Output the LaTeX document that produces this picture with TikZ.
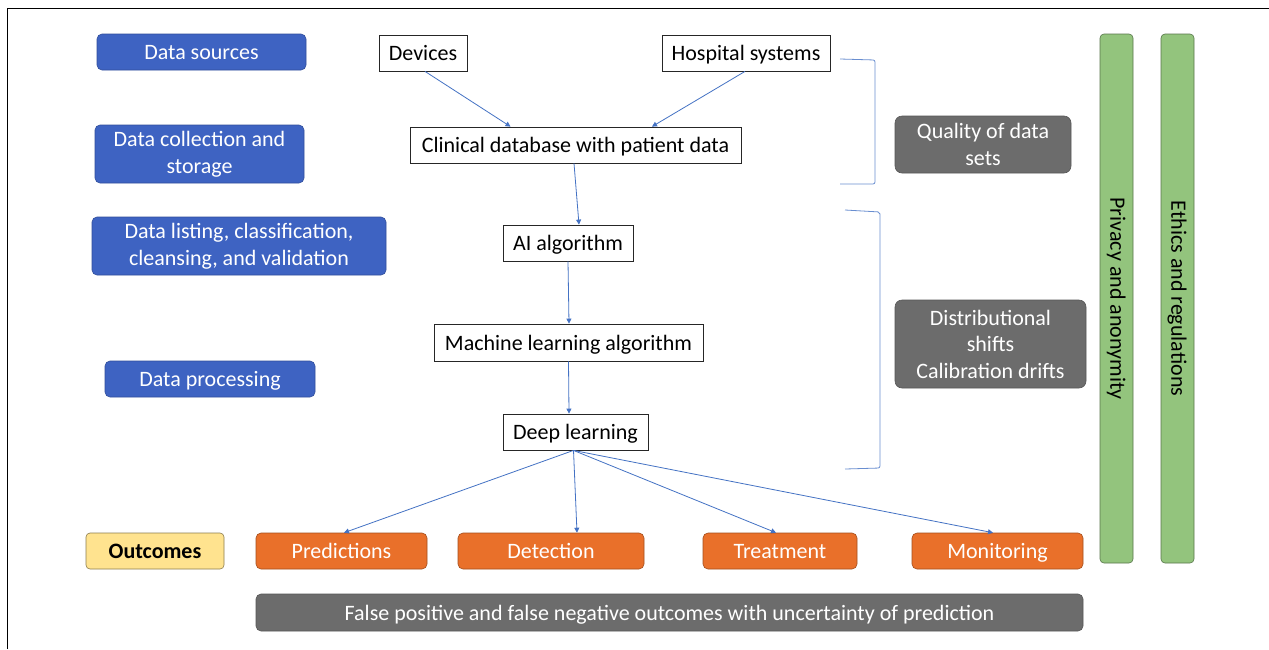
\documentclass[tikz,border=0pt]{standalone}
\usepackage{fontspec}
\setmainfont{Carlito}
\usetikzlibrary{arrows.meta}
\definecolor{bluebox}{RGB}{62,99,194}
\definecolor{orangebox}{RGB}{233,112,42}
\definecolor{graybox}{RGB}{108,108,108}
\definecolor{greenbox}{RGB}{147,196,125}
\definecolor{yellowbox}{RGB}{255,227,143}
\definecolor{linkblue}{RGB}{68,114,196}
\tikzset{
  base/.style={inner sep=2pt, align=center, font=\fontsize{22}{26.5}\selectfont, text height=15.5pt, text depth=0pt},
  multi/.style={text height=, text depth=},
  stagebox/.style={base, fill=bluebox, draw=bluebox!80!black, rounded corners=5pt, text=white, line width=0.6pt},
  flowbox/.style={base, fill=white, draw=black!85, line width=0.8pt, text=black},
  outbox/.style={base, fill=orangebox, draw=orangebox!70!black, rounded corners=5pt, text=white, line width=0.6pt},
  issuebox/.style={base, fill=graybox, draw=graybox!80!black, rounded corners=7pt, text=white, line width=0.6pt},
  barbox/.style={base, fill=greenbox, draw=greenbox!60!black, rounded corners=4pt, text=black, line width=0.6pt, rotate=-90},
  yellbox/.style={base, fill=yellowbox, draw=yellowbox!55!black, rounded corners=4pt, text=black, font=\fontsize{22}{26.5}\selectfont\bfseries, line width=0.6pt},
  link/.style={draw=linkblue, line width=0.8pt, -{Triangle[length=5pt,width=5pt]}},
  brace/.style={draw=linkblue!80, line width=0.8pt, rounded corners=2pt}
}
\begin{document}
\begin{tikzpicture}[x=1pt,y=-1pt]
\useasboundingbox (0,0) rectangle (1269,649);
\fill[white] (0,0) rectangle (1269,649);
\draw[black, line width=1pt] (7,649) -- (7,8) -- (1269,8);

% left stage labels
\node[stagebox, minimum width=209pt, minimum height=36pt] (ds) at (201.5,52) {Data sources};
\node[stagebox, multi, minimum width=209pt, minimum height=58pt] (dcs) at (199.5,154) {Data collection and\\storage};
\node[stagebox, multi, minimum width=294pt, minimum height=58pt] (dl) at (239,246) {Data listing, classification,\\cleansing, and validation};
\node[stagebox, minimum width=210pt, minimum height=36pt] (dp) at (210,379) {Data processing};
\node[yellbox, minimum width=138pt, minimum height=36pt] (out) at (155,551) {Outcomes};

% flow
\node[flowbox, minimum width=88pt, minimum height=36pt] (dev) at (423,53) {Devices};
\node[flowbox, minimum width=168pt, minimum height=36pt] (hos) at (746,53) {Hospital systems};
\node[flowbox, minimum width=331pt, minimum height=36pt] (cdb) at (575.5,145) {Clinical database with patient data};
\node[flowbox, minimum width=130pt, minimum height=36pt] (ai) at (568,243) {AI algorithm};
\node[flowbox, minimum width=269pt, minimum height=37pt] (ml) at (568.5,342.5) {Machine learning algorithm};
\node[flowbox, minimum width=145pt, minimum height=36pt] (deep) at (575.5,432) {Deep learning};

% outcomes
\node[outbox, minimum width=171pt, minimum height=36pt] (pred) at (341.5,551) {Predictions};
\node[outbox, minimum width=186pt, minimum height=36pt] (det) at (551,551) {Detection};
\node[outbox, minimum width=154pt, minimum height=36pt] (tre) at (780,551) {Treatment};
\node[outbox, minimum width=171pt, minimum height=36pt] (mon) at (997.5,551) {Monitoring};
\node[issuebox, rounded corners=5pt, minimum width=827pt, minimum height=37pt] (fp) at (669.5,612.5) {False positive and false negative outcomes with uncertainty of prediction};

% issues
\node[issuebox, multi, minimum width=176pt, minimum height=57pt] (q) at (983,144.5) {Quality of data\\sets};
\node[issuebox, multi, minimum width=191pt, minimum height=88pt] (dist) at (990.5,344) {Distributional\\shifts\\Calibration drifts};

% vertical bars
\node[barbox, text height=15.5pt, text depth=3pt, minimum width=529pt, minimum height=33pt] (priv) at (1116.5,298.5) {Privacy and anonymity};
\node[barbox, text height=15.5pt, text depth=3pt, minimum width=529pt, minimum height=33pt] (eth) at (1177.5,298.5) {Ethics and regulations};

% braces
\coordinate (b1a) at (840,59);
\coordinate (b1b) at (875,60);
\coordinate (b1c) at (875,184);
\coordinate (b1d) at (840,184);
\draw[brace] (b1a) -- (b1b) -- (b1c) -- (b1d);
\coordinate (b2a) at (845,210);
\coordinate (b2b) at (880,212);
\coordinate (b2c) at (880,468);
\coordinate (b2d) at (845,469);
\draw[brace] (b2a) -- (b2b) -- (b2c) -- (b2d);

% connectors
\draw[link] ([xshift=2pt]dev.south) -- ([xshift=-65pt]cdb.north);
\draw[link] ([xshift=-1pt]hos.south) -- ([xshift=76.5pt]cdb.north);
\draw[link] ([xshift=-1.5pt]cdb.south) -- ([xshift=11pt]ai.north);
\draw[link] (ai.south) -- ([xshift=0.5pt]ml.north);
\draw[link] (ml.south) -- ([xshift=-6.5pt]deep.north);
\draw[link] ([xshift=-2pt]deep.south) -- ([xshift=2.5pt]pred.north);
\draw[link] ([xshift=-2pt]deep.south) -- ([xshift=26pt]det.north);
\draw[link] ([xshift=-2pt]deep.south) -- ([xshift=-4pt]tre.north);
\draw[link] ([xshift=-2pt]deep.south) -- ([xshift=-4.5pt]mon.north);
\end{tikzpicture}
\end{document}
